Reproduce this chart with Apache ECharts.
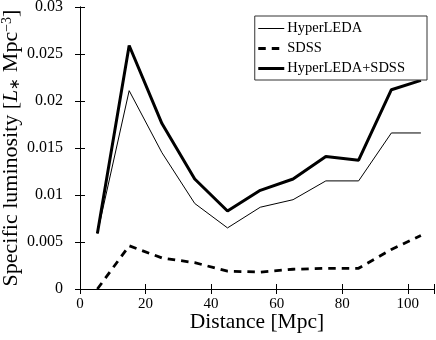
<!DOCTYPE html>
<html>
<head>
<meta charset="utf-8">
<script src="https://cdn.jsdelivr.net/npm/echarts@6/dist/echarts.min.js"></script>
<style>
  html, body { margin: 0; padding: 0; background: #fff; }
  #chart { width: 436px; height: 340px; }
</style>
</head>
<body>
<div id="chart"></div>
<script>
// 距离 (Mpc)
var distances = [5.3, 15, 25, 35, 45, 55, 65, 75, 85, 95, 104]
// 各数据集的比光度
var hyperleda = [0.0059, 0.0211, 0.0145, 0.0091, 0.0065, 0.0087, 0.0095, 0.0115, 0.0115, 0.0166, 0.0166]
var sdss = [0.0, 0.0046, 0.0033, 0.0028, 0.0019, 0.0018, 0.0021, 0.0022, 0.0022, 0.0042, 0.0057]
var combined = [0.0059, 0.0259, 0.0176, 0.0117, 0.0083, 0.0105, 0.0117, 0.0141, 0.0137, 0.0212, 0.0222]
var yTicks = [0, 0.005, 0.01, 0.015, 0.02, 0.025, 0.03]

var serif = 'Liberation Serif'

function pairs (ys) {
  return distances.map(function (x, i) { return [x, ys[i]] })
}

var chart = echarts.init(document.getElementById('chart'), null, { renderer: 'canvas' })

var option = {
  animation: false,
  backgroundColor: '#fff',
  textStyle: { fontFamily: serif, color: '#000' },
  grid: { left: 80, right: 2, top: 7, bottom: 51, containLabel: false, outerBoundsMode: 'none' },
  legend: {
    right: 9,
    top: 16,
    orient: 'vertical',
    align: 'left',
    itemWidth: 26,
    itemHeight: 14,
    itemGap: 5,
    padding: [5, 22, 4, 2],
    borderColor: '#333',
    borderWidth: 1,
    backgroundColor: '#fff',
    itemStyle: { opacity: 0 },
    textStyle: { fontFamily: serif, fontSize: 14.5, color: '#000', padding: [0, 0, 0, -2] },
    data: [
      { name: 'HyperLEDA', itemStyle: { opacity: 0 }, lineStyle: { width: 1 } },
      { name: 'SDSS', itemStyle: { opacity: 0 }, lineStyle: { width: 2.8 } },
      { name: 'HyperLEDA+SDSS', itemStyle: { opacity: 0 }, lineStyle: { width: 3 } }
    ]
  },
  xAxis: [
    {
      type: 'value',
      min: 0,
      max: 108,
      interval: 20,
      name: 'Distance [Mpc]',
      nameLocation: 'middle',
      nameGap: 22,
      nameMoveOverlap: false,
      nameTextStyle: { fontFamily: serif, fontSize: 21.5, color: '#000' },
      axisLine: { show: true, lineStyle: { color: '#000', width: 1 } },
      axisTick: { show: true, inside: true, length: 5, lineStyle: { color: '#000' } },
      axisLabel: {
        fontFamily: serif,
        fontSize: 15,
        color: '#000',
        margin: 8,
        formatter: function (v) { return v % 20 === 0 ? String(v) : '' }
      },
      splitLine: { show: false }
    },
    {
      type: 'value',
      position: 'top',
      min: 0,
      max: 108,
      interval: 20,
      axisLine: { show: true, lineStyle: { color: '#000', width: 1 } },
      axisTick: { show: true, inside: true, length: 5, lineStyle: { color: '#000' } },
      axisLabel: { show: false },
      splitLine: { show: false }
    }
  ],
  yAxis: [
    {
      type: 'value',
      min: yTicks[0],
      max: yTicks[yTicks.length - 1],
      interval: 0.005,
      name: 'Specific luminosity [{i|L}{s|∗} Mpc{sup|−3}]',
      nameLocation: 'middle',
      nameGap: 58,
      nameMoveOverlap: false,
      nameTextStyle: {
        fontFamily: serif,
        fontSize: 22,
        color: '#000',
        rich: {
          i: { fontFamily: serif, fontSize: 22, fontStyle: 'italic', color: '#000' },
          s: { fontFamily: serif, fontSize: 14, color: '#000', verticalAlign: 'bottom', padding: [8, 0, 0, 0] },
          sup: { fontFamily: serif, fontSize: 14, color: '#000', verticalAlign: 'top', padding: [0, 0, 8, 0] }
        }
      },
      axisLine: { show: true, lineStyle: { color: '#000', width: 1 } },
      axisTick: { show: true, inside: true, length: 5, lineStyle: { color: '#000' } },
      axisLabel: {
        fontFamily: serif,
        fontSize: 16,
        color: '#000',
        margin: 17,
        formatter: function (v) { return String(+v.toFixed(3)) }
      },
      splitLine: { show: false }
    },
    {
      type: 'value',
      position: 'right',
      min: yTicks[0],
      max: yTicks[yTicks.length - 1],
      interval: 0.005,
      axisLine: { show: true, lineStyle: { color: '#000', width: 1 } },
      axisTick: { show: true, inside: true, length: 5, lineStyle: { color: '#000' } },
      axisLabel: { show: false },
      splitLine: { show: false }
    }
  ],
  series: [
    {
      name: 'HyperLEDA',
      type: 'line',
      data: pairs(hyperleda),
      symbol: 'none',
      itemStyle: { color: '#000' },
      lineStyle: { color: '#000', width: 1 }
    },
    {
      name: 'SDSS',
      type: 'line',
      data: pairs(sdss),
      symbol: 'none',
      itemStyle: { color: '#000' },
      lineStyle: { color: '#000', width: 2.8, type: [7.5, 6] }
    },
    {
      name: 'HyperLEDA+SDSS',
      type: 'line',
      data: pairs(combined),
      symbol: 'none',
      itemStyle: { color: '#000' },
      lineStyle: { color: '#000', width: 3 }
    }
  ]
}

chart.setOption(option)
</script>
</body>
</html>
